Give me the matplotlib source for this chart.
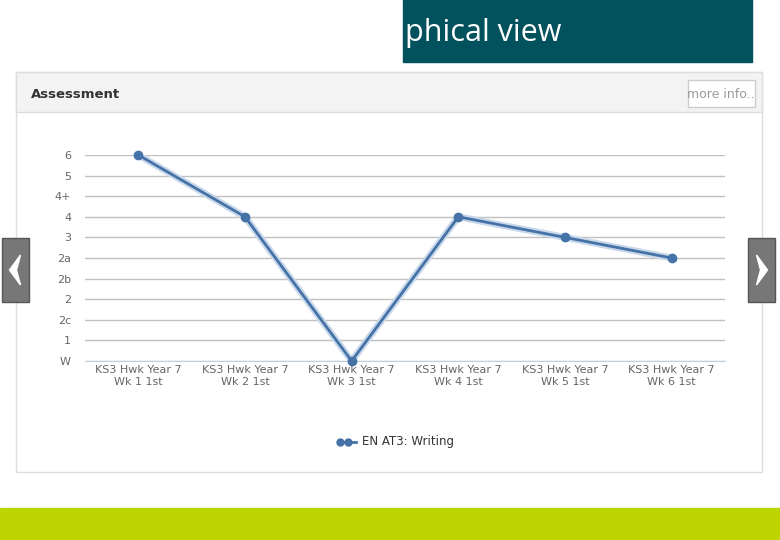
import matplotlib.pyplot as plt
from matplotlib.patches import Rectangle, Polygon

levels = ["W", "1", "2c", "2", "2b", "2a", "3", "4", "4+", "5", "6"]
weeks = ["KS3 Hwk Year 7\nWk 1 1st", "KS3 Hwk Year 7\nWk 2 1st", "KS3 Hwk Year 7\nWk 3 1st",
         "KS3 Hwk Year 7\nWk 4 1st", "KS3 Hwk Year 7\nWk 5 1st", "KS3 Hwk Year 7\nWk 6 1st"]
grades = ["6", "4", "W", "4", "3", "2a"]

W, H = 780, 540
fig = plt.figure(figsize=(7.8, 5.4), dpi=100)
bg = fig.add_axes([0, 0, 1, 1])
bg.set_xlim(0, W)
bg.set_ylim(H, 0)
bg.axis("off")

# slide decorations
bg.add_patch(Rectangle((0, 508), W, 32, color="#bcd400"))
bg.add_patch(Rectangle((403, 0), 349, 62, color="#02525e"))
bg.text(388, 33, "aphical view", color="white", fontsize=22, va="center", family="Open Sans",
        clip_on=True).set_clip_path(Rectangle((403, 0), 349, 62, transform=bg.transData))
bg.add_patch(Rectangle((16, 72), 746, 400, facecolor="white", edgecolor="#dddddd", lw=1))
bg.add_patch(Rectangle((16, 72), 746, 40, facecolor="#f3f3f3", edgecolor="#dddddd", lw=1))
bg.text(31, 94, "Assessment", fontsize=9.5, fontweight="bold", color="#333333", va="center")
bg.add_patch(Rectangle((688, 80), 67, 27, facecolor="white", edgecolor="#cccccc", lw=1))
bg.text(721, 94, "more info..", fontsize=9, color="#999999", va="center", ha="center")
for x0, d in [(2, -1), (748, 1)]:
    bg.add_patch(Rectangle((x0, 238), 27, 64, facecolor="#777777", edgecolor="#555555"))
    cx = x0 + 13.5
    bg.add_patch(Polygon([(cx - 5 * d, 255), (cx + 6 * d, 270), (cx - 5 * d, 285),
                          (cx - 1 * d, 270)], closed=True, color="white"))

# chart
ax = fig.add_axes([85 / W, 1 - 361 / H, 640 / W, 206 / H])
x = list(range(len(weeks)))
y = [levels.index(g) for g in grades]
ax.plot(x, y, color="#c8d8ea", lw=5, zorder=2)
ax.plot(x, y, color="#4572a7", lw=2, marker="o", ms=6, zorder=3, clip_on=False)
ax.set_xlim(-0.5, 5.5)
ax.set_ylim(0, 10)
ax.set_yticks(range(len(levels)))
ax.set_yticklabels(levels)
ax.set_xticks(x)
ax.set_xticklabels(weeks)
ax.grid(axis="y", color="#c0c0c0", lw=1)
ax.set_axisbelow(True)
for s in ["top", "right", "left"]:
    ax.spines[s].set_visible(False)
ax.spines["bottom"].set_color("#c0d0e0")
ax.tick_params(axis="y", length=0, pad=10, labelsize=8, labelcolor="#666666")
ax.tick_params(axis="x", length=0, pad=3, labelsize=8, labelcolor="#666666")

# legend
bg.plot([340, 356], [442, 442], color="#4572a7", lw=2, marker="o", ms=5, markevery=[0])
bg.plot([348], [442], color="#4572a7", marker="o", ms=5)
bg.text(362, 442, "EN AT3: Writing", fontsize=8.5, color="#333333", va="center")

fig.savefig("out.png", dpi=100)
